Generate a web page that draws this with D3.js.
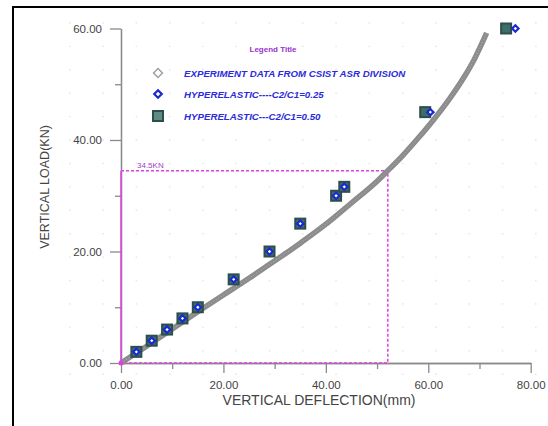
<!doctype html>
<html>
<head>
<meta charset="utf-8">
<title>Vertical load vs deflection</title>
<style>
*{margin:0;padding:0;}
body{background:white;}
svg text{font-family:Arial,"Liberation Sans",sans-serif;}
</style>
</head>
<body>
<script src="https://cdn.jsdelivr.net/npm/d3@7"></script>
<script type="text/javascript">
// experiment curve (deflection mm, load kN)
var expData = [[0,0],[5,3.0],[10,6.1],[15,9.2],[20,12.2],[25,15.2],[29,17.7],[33,20.2],[35,21.5],[40,24.9],
  [42,26.4],[45,28.7],[50,32.6],[52.1,34.5],[55,37.2],[58,40.3],[61,43.6],[64,47.2],[67,51.3],[69,54.5],[71.4,59.2]];
// hyperelastic C2/C1=0.25
var hyper25 = [[3,2],[6,4],[9,6],[12,8],[15,10],[22,15],[29,20],[35,25],[42,30],[43.6,31.6],[60.4,45],[77,60]];
// hyperelastic C2/C1=0.50
var hyper50 = [[3,2],[6,4],[9,6],[12,8],[15,10],[22,15],[29,20],[35,25],[42,30],[43.6,31.6],[59.4,45],[75.2,60]];
var xTicks = [0,20,40,60,80], xMinor = [10,30,50,70];
var yTicks = [0,20,40,60], yMinor = [10,30,50];
var marker = {x:52.1, y:34.5, label:"34.5KN"};
var legendItems = ["EXPERIMENT DATA FROM CSIST ASR DIVISION","HYPERELASTIC----C2/C1=0.25","HYPERELASTIC---C2/C1=0.50"];

var svg = d3.select("body").append("svg").attr("width",548).attr("height",426);
// frame
svg.append("rect").attr("x",13).attr("y",7).attr("width",600).attr("height",500)
  .attr("fill","white").attr("stroke","#000").attr("stroke-width",2);

var x = d3.scaleLinear().domain([0,80]).range([121,530.7]);
var y = d3.scaleLinear().domain([0,60]).range([363,28.5]);
var fmt = d3.format(".2f");

// faint background dots
var dots = svg.append("g").attr("fill","#e8e8e8");
d3.range(-10,90,6.5).forEach(function(gx){
  d3.range(-2,64,4.2).forEach(function(gy){
    var px = x(gx), py = y(gy);
    if(px>20 && px<545 && py>12 && py<420) dots.append("circle").attr("cx",px).attr("cy",py).attr("r",0.9);
  });
});

// axes
svg.append("g").attr("transform","translate(0,"+y(0)+")")
  .call(d3.axisBottom(x).tickValues(xTicks).tickFormat(fmt).tickSize(10).tickSizeOuter(0).tickPadding(8));
svg.append("g").attr("transform","translate(0,"+y(0)+")")
  .call(d3.axisBottom(x).tickValues(xMinor).tickFormat("").tickSize(6).tickSizeOuter(0));
svg.append("g").attr("transform","translate("+x(0)+",0)")
  .call(d3.axisLeft(y).tickValues(yTicks).tickFormat(fmt).tickSize(11).tickSizeOuter(0).tickPadding(8));
svg.append("g").attr("transform","translate("+x(0)+",0)")
  .call(d3.axisLeft(y).tickValues(yMinor).tickFormat("").tickSize(6).tickSizeOuter(0));
svg.selectAll(".domain, .tick line").attr("stroke","#8a8a8a").attr("stroke-width",1.3);
svg.selectAll(".tick text").attr("fill","#444").style("font-size","11.5px");

svg.append("text").attr("x",319).attr("y",405).attr("text-anchor","middle")
  .attr("fill","#444").style("font-size","14px").text("VERTICAL DEFLECTION(mm)");
svg.append("text").attr("transform","translate(49,187) rotate(-90)").attr("text-anchor","middle")
  .attr("fill","#444").style("font-size","12.5px").text("VERTICAL LOAD(KN)");

// pink reference box at 34.5 kN
var pink = "#e040e0";
svg.append("line").attr("x1",x(0)).attr("x2",x(0)).attr("y1",y(0)).attr("y2",y(marker.y))
  .attr("stroke",pink).attr("stroke-width",1.5);
svg.append("path")
  .attr("d","M"+x(0)+","+y(marker.y)+"H"+x(marker.x)+"V"+y(0)+"H"+x(0))
  .attr("fill","none").attr("stroke",pink).attr("stroke-width",1.5).attr("stroke-dasharray","3,2");
svg.append("text").attr("x",x(0)+16).attr("y",y(marker.y)-3).attr("fill","#a040c0")
  .style("font-size","8px").text(marker.label);

// experiment curve
var line = d3.line().x(function(d){return x(d[0]);}).y(function(d){return y(d[1]);}).curve(d3.curveMonotoneX);
svg.append("path").datum(expData).attr("d",line).attr("fill","none")
  .attr("stroke","#8c8c8c").attr("stroke-width",5.5);
svg.append("path").datum(expData).attr("d",line).attr("fill","none")
  .attr("stroke","#b4b4b4").attr("stroke-width",1).attr("stroke-dasharray","1,2");
svg.append("circle").attr("cx",x(0)).attr("cy",y(0)).attr("r",2.5).attr("fill",pink);

// squares C2/C1=0.50
svg.append("g").selectAll("rect").data(hyper50).enter().append("rect")
  .attr("x",function(d){return x(d[0])-5;}).attr("y",function(d){return y(d[1])-5;})
  .attr("width",10).attr("height",10).attr("fill","#3f6e68").attr("stroke","#2d4f4b").attr("stroke-width",2);
// diamonds C2/C1=0.25
var diamond = d3.symbol().type(d3.symbolDiamond2).size(26);
svg.append("g").selectAll("path").data(hyper25).enter().append("path")
  .attr("d",diamond).attr("transform",function(d){return "translate("+x(d[0])+","+y(d[1])+")";})
  .attr("fill","white").attr("stroke","#1a2ad0").attr("stroke-width",2.2);

// legend
svg.append("text").attr("x",273).attr("y",52).attr("text-anchor","middle").attr("fill","#9933cc")
  .style("font-size","8px").style("font-weight","bold").text("Legend Title");
var ly = [73,94,116];
svg.append("path").attr("d",d3.symbol().type(d3.symbolDiamond2).size(50)())
  .attr("transform","translate(158,"+ly[0]+")").attr("fill","white").attr("stroke","#a0a0a0").attr("stroke-width",1.5);
svg.append("path").attr("d",d3.symbol().type(d3.symbolDiamond2).size(36)())
  .attr("transform","translate(158,"+ly[1]+")").attr("fill","white").attr("stroke","#1a2ad0").attr("stroke-width",2.2);
svg.append("rect").attr("x",153).attr("y",ly[2]-5).attr("width",10).attr("height",10)
  .attr("fill","#5d8c84").attr("stroke","#2d4f4b").attr("stroke-width",2);
svg.append("g").selectAll("text").data(legendItems).enter().append("text")
  .attr("x",184).attr("y",function(d,i){return ly[i]+3.5;})
  .attr("fill","#2b2bd9").style("font-size","9.7px").style("font-weight","bold").style("font-style","italic")
  .text(function(d){return d;});
</script>
</body>
</html>
